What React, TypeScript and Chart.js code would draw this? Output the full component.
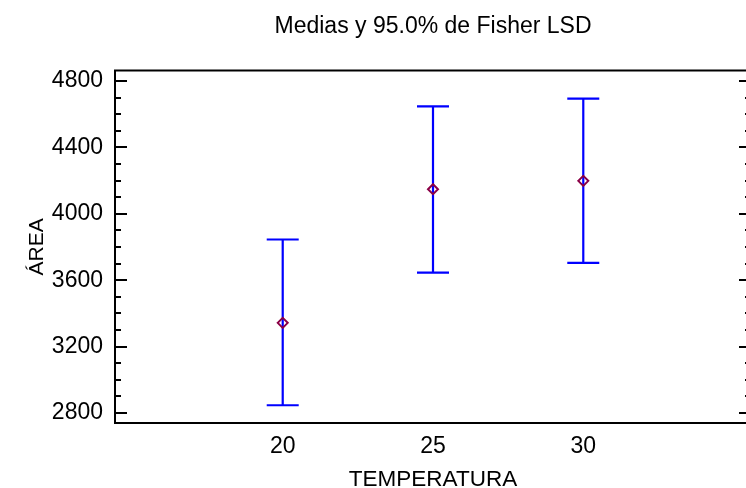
import React, { useEffect, useRef } from "react";
import { Chart, registerables } from "chart.js";

Chart.register(...registerables);

// ---- data ----
const categories = [20, 25, 30];
const means = [3343, 4148, 4198];
const lowerLimits = [2847, 3645, 3704];
const upperLimits = [3845, 4646, 4693];
const xTickValues = [20, 25, 30];
const yTickValues = [2800, 3200, 3600, 4000, 4400, 4800];
const yMinorStep = 100;
const chartTitle = "Medias y 95.0% de Fisher LSD";
const xAxisTitle = "TEMPERATURA";
const yAxisTitle = "ÁREA";

const FONT = "'Liberation Sans', Arial, Helvetica, sans-serif";

const framePlugin = {
  id: "frameAndBars",
  beforeDatasetsDraw(chart: any) {
    const { ctx, chartArea: a, scales } = chart;
    const x = scales.x;
    const y = scales.y;
    ctx.save();
    // error bars
    ctx.strokeStyle = "#0000ff";
    ctx.lineWidth = 2.2;
    categories.forEach((c, i) => {
      const px = x.getPixelForValue(c);
      const pl = y.getPixelForValue(lowerLimits[i]);
      const pu = y.getPixelForValue(upperLimits[i]);
      ctx.beginPath();
      ctx.moveTo(px, pl);
      ctx.lineTo(px, pu);
      ctx.moveTo(px - 16, pl);
      ctx.lineTo(px + 16, pl);
      ctx.moveTo(px - 16, pu);
      ctx.lineTo(px + 16, pu);
      ctx.stroke();
    });
    // frame
    ctx.strokeStyle = "#000";
    ctx.lineWidth = 2;
    ctx.beginPath();
    ctx.moveTo(a.left, a.top);
    ctx.lineTo(a.right, a.top);
    ctx.lineTo(a.right, a.bottom);
    ctx.lineTo(a.left, a.bottom);
    ctx.closePath();
    ctx.stroke();
    // y ticks (major + minor), both sides, inward
    const start = Math.ceil(y.min / yMinorStep) * yMinorStep;
    ctx.beginPath();
    for (let v = start; v <= y.max; v += yMinorStep) {
      const py = Math.round(y.getPixelForValue(v));
      const len = yTickValues.includes(v) ? 12 : 6;
      ctx.moveTo(a.left, py);
      ctx.lineTo(a.left + len, py);
      ctx.moveTo(a.right, py);
      ctx.lineTo(a.right - len, py);
    }
    ctx.stroke();
    ctx.restore();
  },
};

export default function App() {
  const ref = useRef<HTMLCanvasElement | null>(null);

  useEffect(() => {
    if (!ref.current) return;
    const chart = new Chart(ref.current, {
      type: "scatter",
      data: {
        datasets: [
          {
            data: categories.map((c, i) => ({ x: c, y: means[i] })),
            pointStyle: "rectRot",
            pointRadius: 5,
            pointBorderWidth: 2,
            pointBorderColor: "#8b0046",
            pointBackgroundColor: "rgba(255,255,255,0)",
            showLine: false,
          },
        ],
      },
      options: {
        responsive: false,
        animation: false,
        devicePixelRatio: 1,
        layout: { padding: 0, autoPadding: false },
        plugins: {
          legend: { display: false },
          tooltip: { enabled: false },
          title: {
            display: true,
            text: chartTitle,
            fullSize: false,
            color: "#000",
            font: { family: FONT, size: 23, weight: "normal" },
            padding: { top: 13, bottom: 30 },
          },
        },
        scales: {
          x: {
            type: "linear",
            min: 14.42,
            max: 35.58,
            grid: { display: false, drawTicks: false },
            border: { display: false },
            afterBuildTicks: (s: any) => {
              s.ticks = xTickValues.map((v) => ({ value: v }));
            },
            afterFit: (s: any) => {
              s.height = 77;
            },
            ticks: {
              padding: 10,
              color: "#000",
              font: { family: FONT, size: 23 },
              maxRotation: 0,
              callback: (v: any) => String(v),
            },
            title: {
              display: true,
              text: xAxisTitle,
              color: "#000",
              font: { family: FONT, size: 22.5 },
              padding: { top: 0, bottom: 7 },
            },
          },
          y: {
            type: "linear",
            min: 2740,
            max: 4862,
            grid: { display: false, drawTicks: false },
            border: { display: false },
            afterBuildTicks: (s: any) => {
              s.ticks = yTickValues.map((v) => ({ value: v }));
            },
            afterFit: (s: any) => {
              s.width = 115;
            },
            ticks: {
              padding: 12,
              color: "#000",
              font: { family: FONT, size: 23 },
              callback: (v: any) => String(v),
            },
            title: {
              display: true,
              text: yAxisTitle,
              color: "#000",
              font: { family: FONT, size: 21 },
              padding: { top: 25, bottom: 0 },
            },
          },
        },
      },
      plugins: [framePlugin],
    });
    return () => chart.destroy();
  }, []);

  return (
    <div
      style={{
        position: "fixed",
        left: 0,
        top: 0,
        width: 746,
        height: 488,
        overflow: "hidden",
        background: "#fff",
      }}
    >
      <canvas ref={ref} width={751} height={500} style={{ display: "block" }} />
    </div>
  );
}
